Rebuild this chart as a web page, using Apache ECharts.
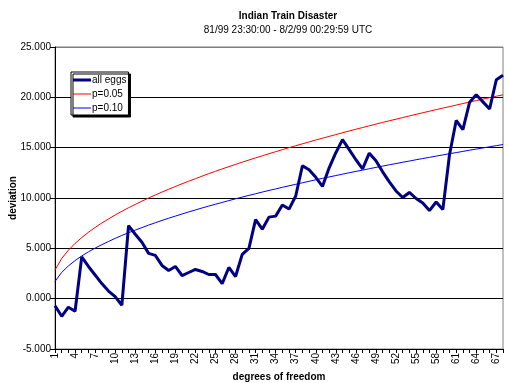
<!DOCTYPE html>
<html>
<head>
<meta charset="utf-8">
<script src="https://cdn.jsdelivr.net/npm/echarts@6/dist/echarts.min.js"></script>
<style>html,body{margin:0;padding:0;background:#fff}#c{width:508px;height:383px}</style>
</head>
<body>
<div id="c"></div>
<script>
const categories = Array.from({length: 68}, (_, i) => String(i + 1));
const allEggs = [-0.7, -1.75, -0.85, -1.25, 4.15, 3.2, 2.35, 1.5, 0.75, 0.2, -0.65, 7.25, 6.4, 5.6, 4.5, 4.3, 3.3, 2.8, 3.2, 2.3, 2.6, 2.9, 2.7, 2.4, 2.4, 1.5, 3.1, 2.2, 4.4, 5.0, 7.85, 6.9, 8.1, 8.2, 9.3, 8.9, 10.2, 13.2, 12.8, 12.05, 11.15, 13.0, 14.5, 15.8, 14.8, 13.8, 12.9, 14.45, 13.7, 12.6, 11.6, 10.7, 10.05, 10.55, 9.95, 9.5, 8.75, 9.6, 8.85, 14.3, 17.7, 16.8, 19.5, 20.25, 19.55, 18.85, 21.75, 22.2];
const p05 = [2.84, 3.99, 4.81, 5.49, 6.07, 6.59, 7.07, 7.51, 7.92, 8.31, 8.68, 9.03, 9.36, 9.69, 10.00, 10.30, 10.59, 10.87, 11.14, 11.41, 11.67, 11.92, 12.17, 12.42, 12.65, 12.89, 13.11, 13.34, 13.56, 13.77, 13.99, 14.19, 14.40, 14.60, 14.80, 15.00, 15.19, 15.38, 15.57, 15.76, 15.94, 16.12, 16.30, 16.48, 16.66, 16.83, 17.00, 17.17, 17.34, 17.51, 17.67, 17.83, 17.99, 18.15, 18.31, 18.47, 18.62, 18.78, 18.93, 19.08, 19.23, 19.38, 19.53, 19.68, 19.82, 19.97, 20.11, 20.25];
const p10 = [1.71, 2.61, 3.25, 3.78, 4.24, 4.65, 5.02, 5.36, 5.68, 5.99, 6.28, 6.55, 6.81, 7.06, 7.31, 7.54, 7.77, 7.99, 8.20, 8.41, 8.62, 8.81, 9.01, 9.20, 9.38, 9.56, 9.74, 9.92, 10.09, 10.26, 10.42, 10.59, 10.75, 10.90, 11.06, 11.21, 11.36, 11.51, 11.66, 11.81, 11.95, 12.09, 12.23, 12.37, 12.51, 12.64, 12.77, 12.91, 13.04, 13.17, 13.30, 13.42, 13.55, 13.67, 13.80, 13.92, 14.04, 14.16, 14.28, 14.40, 14.51, 14.63, 14.75, 14.86, 14.97, 15.09, 15.20, 15.31];
const seriesNames = ['all eggs', 'p=0.05', 'p=0.10'];
const titleText = 'Indian Train Disaster';
const subtitleText = '81/99 23:30:00 - 8/2/99 00:29:59 UTC';

const FONT = 'Liberation Sans, Arial, sans-serif';
const chart = echarts.init(document.getElementById('c'), null, {renderer: 'canvas'});
chart.setOption({
  animation: false,
  backgroundColor: '#ffffff',
  textStyle: {fontFamily: FONT},
  title: [
    {text: titleText, left: 283, top: 6, textAlign: 'center',
     textStyle: {fontFamily: FONT, fontSize: 10, fontWeight: 'bold', color: '#000'}},
    {text: subtitleText, left: 283, top: 20, textAlign: 'center',
     textStyle: {fontFamily: FONT, fontSize: 10, fontWeight: 'normal', color: '#000'}}
  ],
  legend: {
    orient: 'vertical', left: 71, top: 72,
    itemWidth: 18, itemHeight: 10, itemGap: 4,
    padding: [3, 2, 2, 2],
    backgroundColor: '#fff', borderColor: '#000', borderWidth: 1,
    shadowColor: '#000', shadowOffsetX: 2, shadowOffsetY: 2, shadowBlur: 0,
    symbolKeepAspect: true,
    textStyle: {fontFamily: FONT, fontSize: 10, color: '#000', padding: [0, 0, 0, -4]},
    data: [
      {name: seriesNames[0], icon: 'path://M0,0H18V3H0Z'},
      {name: seriesNames[1], icon: 'path://M0,0H18V1H0Z'},
      {name: seriesNames[2], icon: 'path://M0,0H18V1H0Z'}
    ]
  },
  grid: {left: 55, right: 5, top: 47, bottom: 34, containLabel: false, outerBoundsMode: 'none',
         show: true, borderColor: '#808080', borderWidth: 1, backgroundColor: '#fff'},
  xAxis: {
    type: 'category', data: categories, boundaryGap: false,
    name: 'degrees of freedom', nameLocation: 'middle', nameGap: 23, nameMoveOverlap: false,
    nameTextStyle: {fontFamily: FONT, fontSize: 10, fontWeight: 'bold', color: '#000'},
    axisLine: {onZero: false, lineStyle: {color: '#000', width: 1}},
    axisTick: {interval: 0, length: 4, lineStyle: {color: '#000'}},
    axisLabel: {interval: 2, rotate: 90, fontSize: 10, color: '#000', fontFamily: FONT, margin: 4},
    splitLine: {show: false}
  },
  yAxis: {
    type: 'value', min: -5, max: 25, interval: 5,
    name: 'deviation', nameLocation: 'middle', nameGap: 37, nameRotate: 90, nameMoveOverlap: false,
    nameTextStyle: {fontFamily: FONT, fontSize: 10, fontWeight: 'bold', color: '#000'},
    axisLine: {show: true, lineStyle: {color: '#000', width: 1}},
    axisTick: {show: true, length: 5, lineStyle: {color: '#000'}},
    axisLabel: {formatter: v => v.toFixed(3), fontSize: 10, color: '#000', fontFamily: FONT, margin: 4},
    splitLine: {show: true, lineStyle: {color: ['#000', '#000', '#000', '#000', '#000', '#000', '#808080'], width: 1}}
  },
  series: [
    {name: seriesNames[0], type: 'line', data: allEggs, symbol: 'none', z: 5,
     lineStyle: {color: '#000080', width: 3}, itemStyle: {color: '#000080'}},
    {name: seriesNames[1], type: 'line', data: p05, symbol: 'none', z: 3,
     lineStyle: {color: '#ff0000', width: 1}, itemStyle: {color: '#ff0000'}},
    {name: seriesNames[2], type: 'line', data: p10, symbol: 'none', z: 3,
     lineStyle: {color: '#0000ff', width: 1}, itemStyle: {color: '#0000ff'}}
  ]
});
</script>
</body>
</html>
